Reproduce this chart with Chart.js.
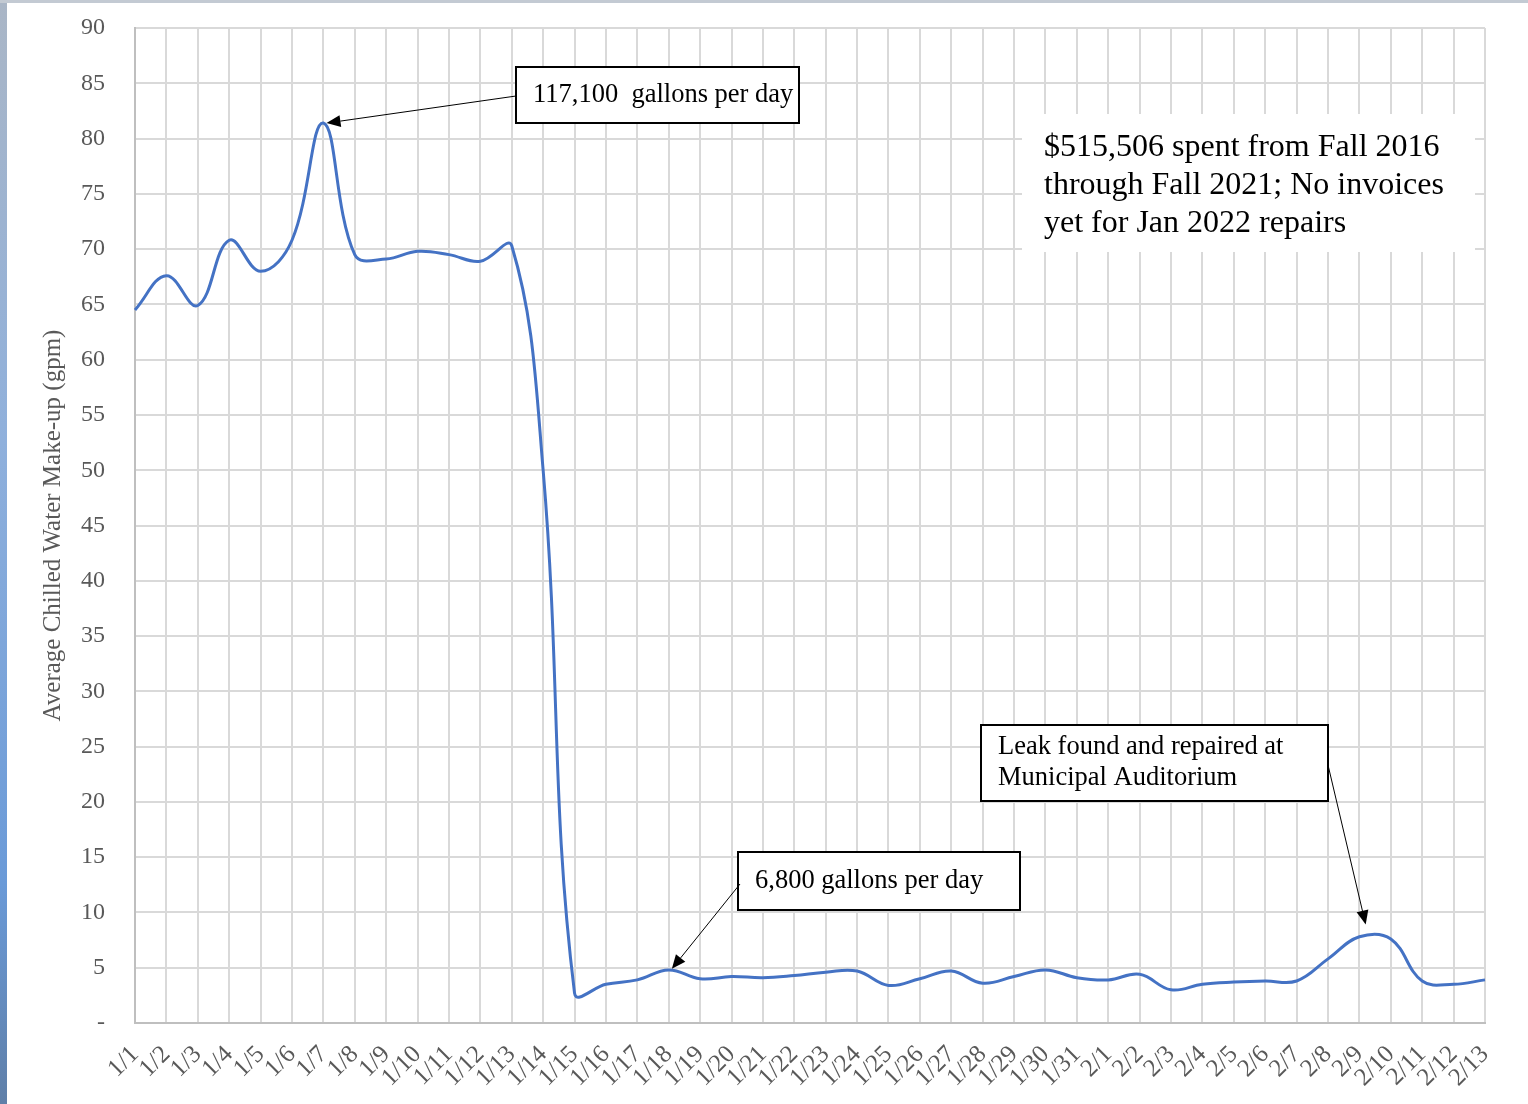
<!DOCTYPE html>
<html lang="en">
<head>
  <meta charset="UTF-8">
  <title>Chilled Water Make-up</title>
  <script src="https://cdn.jsdelivr.net/npm/chart.js"></script>
  <style>
    html, body { margin: 0; padding: 0; background: #fff; }
    #wrap { position: relative; width: 1528px; height: 1104px; overflow: hidden; }
    #strip { position: absolute; left: 0; top: 0; width: 7px; height: 1104px;
             background: linear-gradient(#aab6c6, #8fb0dc 40%, #6a9ad8 80%, #5f7fa8); }
    #topline { position: absolute; left: 0; top: 0; width: 1528px; height: 3px; background: #c3cad3; }
  </style>
</head>
<body>
  <div id="wrap">
    <canvas id="chart" width="1528" height="1104"></canvas>
    <div id="strip"></div>
    <div id="topline"></div>
  </div>

  <script>
    // categories (days)
    const days = [
      "1/1","1/2","1/3","1/4","1/5","1/6","1/7","1/8","1/9","1/10","1/11","1/12","1/13","1/14",
      "1/15","1/16","1/17","1/18","1/19","1/20","1/21","1/22","1/23","1/24","1/25","1/26","1/27",
      "1/28","1/29","1/30","1/31",
      "2/1","2/2","2/3","2/4","2/5","2/6","2/7","2/8","2/9","2/10","2/11","2/12","2/13"
    ];

    // average chilled water make-up, gpm
    const makeupGpm = [
      64.5, 67.6, 64.9, 70.8, 68.0, 70.8, 81.4, 69.5, 69.1, 69.8, 69.5, 68.9, 70.3, 50.0,
      2.7, 3.5, 3.9, 4.8, 4.0, 4.2, 4.1, 4.3, 4.6, 4.7, 3.4, 4.0, 4.7,
      3.6, 4.2, 4.8, 4.1,
      3.9, 4.4, 3.0, 3.5, 3.7, 3.8, 3.8, 5.8, 7.8, 7.6, 3.8, 3.5, 3.9
    ];

    const yMin = 0, yMax = 90, yStep = 5;

    const serif = "'Liberation Serif', 'Times New Roman', serif";

    // callouts: box in pixels, arrow tip at a data position
    const callouts = [
      { lines: ["117,100  gallons per day"], box: [516, 67, 283, 56], from: [516, 96], tipIndex: 6.1, tipValue: 81.4 },
      { lines: ["6,800 gallons per day"], box: [738, 852, 282, 58], from: [740, 884], tipIndex: 17.1, tipValue: 4.9 },
      { lines: ["Leak found and repaired at", "Municipal Auditorium"], box: [981, 725, 347, 76], from: [1328, 765], tipIndex: 39.2, tipValue: 8.9 }
    ];
    const noteLines = ["$515,506 spent from Fall 2016", "through Fall 2021; No invoices", "yet for Jan 2022 repairs"];

    function arrow(ctx, x1, y1, x2, y2) {
      const ang = Math.atan2(y2 - y1, x2 - x1);
      const len = 14, half = 6;
      const bx = x2 - len * Math.cos(ang), by = y2 - len * Math.sin(ang);
      ctx.beginPath();
      ctx.moveTo(x1, y1);
      ctx.lineTo(bx, by);
      ctx.stroke();
      ctx.beginPath();
      ctx.moveTo(x2, y2);
      ctx.lineTo(bx + half * Math.sin(ang), by - half * Math.cos(ang));
      ctx.lineTo(bx - half * Math.sin(ang), by + half * Math.cos(ang));
      ctx.closePath();
      ctx.fill();
    }

    const annotations = {
      id: "annotations",
      afterDraw(chart) {
        const ctx = chart.ctx;
        const xs = chart.scales.x, ys = chart.scales.y;
        ctx.save();

        // note text on white background
        ctx.fillStyle = "#fff";
        ctx.fillRect(1022, 114, 453, 138);
        ctx.fillStyle = "#000";
        ctx.font = "32px " + serif;
        ctx.textBaseline = "middle";
        ctx.textAlign = "left";
        noteLines.forEach((t, i) => ctx.fillText(t, 1044, 148 + i * 38));

        callouts.forEach(c => {
          const [bx, by, bw, bh] = c.box;
          ctx.fillStyle = "#fff";
          ctx.fillRect(bx, by, bw, bh);
          ctx.strokeStyle = "#000";
          ctx.lineWidth = 2;
          ctx.strokeRect(bx, by, bw, bh);
          ctx.fillStyle = "#000";
          ctx.font = "26.5px " + serif;
          const lh = 31;
          const top = by + bh / 2 - (c.lines.length - 1) * lh / 2;
          c.lines.forEach((t, i) => ctx.fillText(t, bx + 17, top + i * lh));
          ctx.lineWidth = 1;
          arrow(ctx, c.from[0], c.from[1], xs.getPixelForValue(c.tipIndex), ys.getPixelForValue(c.tipValue));
        });
        ctx.restore();
      }
    };

    new Chart(document.getElementById("chart"), {
      type: "line",
      data: {
        labels: days,
        datasets: [{
          data: makeupGpm,
          borderColor: "#4472c4",
          borderWidth: 3,
          pointRadius: 0,
          tension: 0.4,
          fill: false
        }]
      },
      options: {
        responsive: false,
        animation: false,
        layout: { padding: { top: 28, right: 43, left: 0, bottom: 0 } },
        plugins: { legend: { display: false }, tooltip: { enabled: false } },
        scales: {
          x: {
            offset: false,
            afterFit(scale) { scale.height = 81; },
            grid: { color: "#d9d9d9", lineWidth: 2, drawTicks: false },
            border: { color: "#bfbfbf", width: 2 },
            ticks: {
              autoSkip: false,
              maxRotation: 45,
              minRotation: 45,
              padding: 17,
              color: "#595959",
              font: { family: serif, size: 25 }
            }
          },
          y: {
            min: yMin,
            max: yMax,
            afterFit(scale) { scale.width = 135; },
            grid: { color: "#d9d9d9", lineWidth: 2, drawTicks: true, tickLength: 26, tickColor: "rgba(0,0,0,0)" },
            border: { color: "#bfbfbf", width: 2 },
            ticks: {
              stepSize: yStep,
              padding: 4,
              color: "#595959",
              font: { family: serif, size: 24 },
              callback: v => v === 0 ? "-" : v
            },
            title: {
              display: true,
              text: "Average Chilled Water Make-up (gpm)",
              color: "#595959",
              font: { family: serif, size: 25 },
              padding: { top: 38, bottom: 0 }
            }
          }
        }
      },
      plugins: [annotations]
    });
  </script>
</body>
</html>
